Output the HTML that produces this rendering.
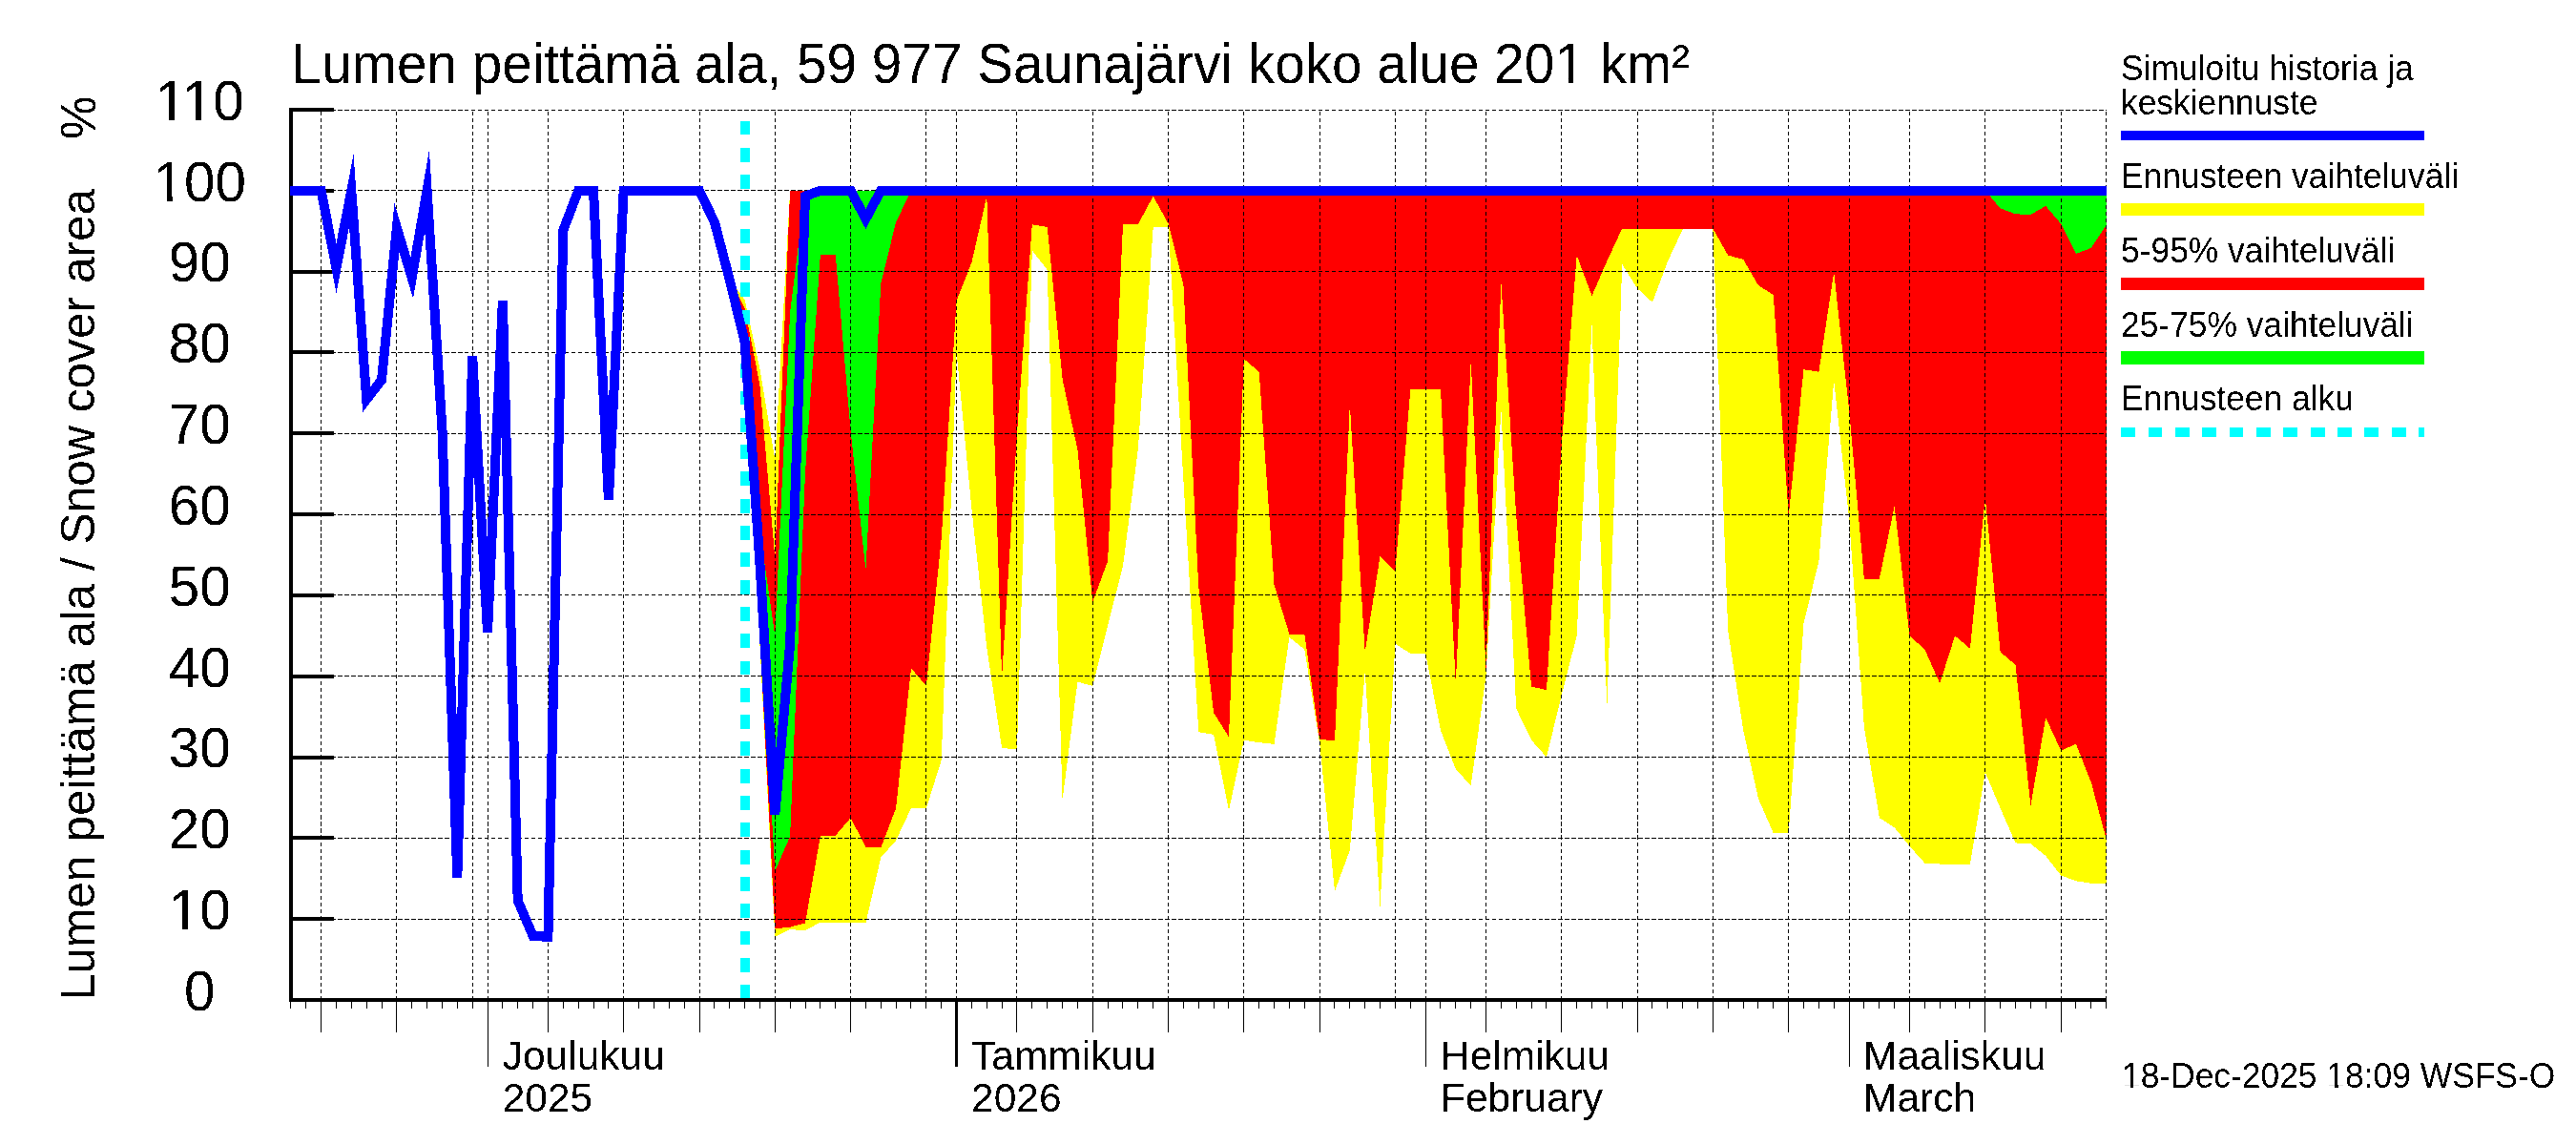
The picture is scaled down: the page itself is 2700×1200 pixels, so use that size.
<!DOCTYPE html>
<html><head><meta charset="utf-8"><title>Lumen peittämä ala</title>
<style>html,body{margin:0;padding:0;background:#fff;width:2700px;height:1200px;overflow:hidden}</style>
</head><body>
<svg width="2700" height="1200" viewBox="0 0 2700 1200" shape-rendering="crispEdges" style="position:absolute;left:0;top:0"><defs><filter id="bin" x="0" y="0" width="2700" height="1200" filterUnits="userSpaceOnUse"><feComponentTransfer><feFuncA type="discrete" tableValues="0 1"/></feComponentTransfer></filter></defs><polygon points="764.7,293 780.6,314.2 796.4,386.3 812.3,482.2 828.1,199.7 844,199.7 859.9,199.7 875.7,199.7 891.6,199.7 907.4,199.7 923.3,199.7 939.1,199.7 955,199.7 970.9,199.7 986.7,199.7 1002.6,199.7 1018.4,199.7 1034.3,199.7 1050.1,199.7 1066,199.7 1081.8,199.7 1097.7,199.7 1113.6,199.7 1129.4,199.7 1145.3,199.7 1161.1,199.7 1177,199.7 1192.8,199.7 1208.7,199.7 1224.6,199.7 1240.4,199.7 1256.3,199.7 1272.1,199.7 1288,199.7 1303.8,199.7 1319.7,199.7 1335.5,199.7 1351.4,199.7 1367.3,199.7 1383.1,199.7 1399,199.7 1414.8,199.7 1430.7,199.7 1446.5,199.7 1462.4,199.7 1478.3,199.7 1494.1,199.7 1510,199.7 1525.8,199.7 1541.7,199.7 1557.5,199.7 1573.4,199.7 1589.2,199.7 1605.1,199.7 1621,199.7 1636.8,199.7 1652.7,199.7 1668.5,199.7 1684.4,199.7 1700.2,199.7 1716.1,199.7 1732,199.7 1747.8,199.7 1763.7,199.7 1779.5,199.7 1795.4,199.7 1811.2,199.7 1827.1,199.7 1842.9,199.7 1858.8,199.7 1874.7,199.7 1890.5,199.7 1906.4,199.7 1922.2,199.7 1938.1,199.7 1953.9,199.7 1969.8,199.7 1985.7,199.7 2001.5,199.7 2017.4,199.7 2033.2,199.7 2049.1,199.7 2064.9,199.7 2080.8,199.7 2096.6,199.7 2112.5,199.7 2128.4,199.7 2144.2,199.7 2160.1,199.7 2175.9,199.7 2191.8,199.7 2207.6,199.7 2207.6,925.8 2191.8,925.8 2175.9,923.3 2160.1,917.4 2144.2,897 2128.4,884.3 2112.5,883.4 2096.6,847 2080.8,809.6 2064.9,905.5 2049.1,905.5 2033.2,905.5 2017.4,904.6 2001.5,886.8 1985.7,867.3 1969.8,857.1 1953.9,762.1 1938.1,543.3 1922.2,399.1 1906.4,588.2 1890.5,653.5 1874.7,873.3 1858.8,873.3 1842.9,836.8 1827.1,764.7 1811.2,661.2 1795.4,240.4 1779.5,240.4 1763.7,240.4 1747.8,274.4 1732,316.8 1716.1,302.3 1700.2,276.9 1684.4,740.9 1668.5,340.5 1652.7,666.3 1636.8,728.2 1621,793.5 1605.1,775.7 1589.2,742.6 1573.4,429.6 1557.5,708.7 1541.7,823.2 1525.8,806.2 1510,765.5 1494.1,684.9 1478.3,684.9 1462.4,674.7 1446.5,949.6 1430.7,703.6 1414.8,891.1 1399,934.3 1383.1,778.2 1367.3,680.7 1351.4,668 1335.5,779.9 1319.7,778.2 1303.8,775.7 1288,849.5 1272.1,769.8 1256.3,767.2 1240.4,503.4 1224.6,237.9 1208.7,237.9 1192.8,471.2 1177,593.3 1161.1,655.2 1145.3,718.9 1129.4,714.6 1113.6,838.5 1097.7,282.8 1081.8,262.5 1066,785 1050.1,784.2 1034.3,679 1018.4,533.1 1002.6,369.4 986.7,796.9 970.9,847 955,847 939.1,880.9 923.3,898.7 907.4,967.4 891.6,967.4 875.7,967.4 859.9,966.6 844,975 828.1,974.2 812.3,981.8 796.4,674.7 780.6,373.6 764.7,293" fill="#ffff00" stroke="none"/><polygon points="764.7,293 780.6,322.7 796.4,403.3 812.3,584.8 828.1,199.7 844,199.7 859.9,199.7 875.7,199.7 891.6,199.7 907.4,199.7 923.3,199.7 939.1,199.7 955,199.7 970.9,199.7 986.7,199.7 1002.6,199.7 1018.4,199.7 1034.3,199.7 1050.1,199.7 1066,199.7 1081.8,199.7 1097.7,199.7 1113.6,199.7 1129.4,199.7 1145.3,199.7 1161.1,199.7 1177,199.7 1192.8,199.7 1208.7,199.7 1224.6,199.7 1240.4,199.7 1256.3,199.7 1272.1,199.7 1288,199.7 1303.8,199.7 1319.7,199.7 1335.5,199.7 1351.4,199.7 1367.3,199.7 1383.1,199.7 1399,199.7 1414.8,199.7 1430.7,199.7 1446.5,199.7 1462.4,199.7 1478.3,199.7 1494.1,199.7 1510,199.7 1525.8,199.7 1541.7,199.7 1557.5,199.7 1573.4,199.7 1589.2,199.7 1605.1,199.7 1621,199.7 1636.8,199.7 1652.7,199.7 1668.5,199.7 1684.4,199.7 1700.2,199.7 1716.1,199.7 1732,199.7 1747.8,199.7 1763.7,199.7 1779.5,199.7 1795.4,199.7 1811.2,199.7 1827.1,199.7 1842.9,199.7 1858.8,199.7 1874.7,199.7 1890.5,199.7 1906.4,199.7 1922.2,199.7 1938.1,199.7 1953.9,199.7 1969.8,199.7 1985.7,199.7 2001.5,199.7 2017.4,199.7 2033.2,199.7 2049.1,199.7 2064.9,199.7 2080.8,199.7 2096.6,199.7 2112.5,199.7 2128.4,199.7 2144.2,199.7 2160.1,199.7 2175.9,199.7 2191.8,199.7 2207.6,199.7 2207.6,879.2 2191.8,819.8 2175.9,779.9 2160.1,786.7 2144.2,751.9 2128.4,844.4 2112.5,696.8 2096.6,683.2 2080.8,521.2 2064.9,679.8 2049.1,666.3 2033.2,716.3 2017.4,680.7 2001.5,666.3 1985.7,530.5 1969.8,606.9 1953.9,606.9 1938.1,429.6 1922.2,285.4 1906.4,389.7 1890.5,387.2 1874.7,540.7 1858.8,309.1 1842.9,299 1827.1,271.8 1811.2,267.6 1795.4,239.6 1779.5,239.6 1763.7,239.6 1747.8,239.6 1732,239.6 1716.1,239.6 1700.2,239.6 1684.4,273.5 1668.5,310 1652.7,267.6 1636.8,466.1 1621,723.1 1605.1,719.7 1589.2,540.7 1573.4,296.4 1557.5,701 1541.7,378.7 1525.8,716.3 1510,408.4 1494.1,408.4 1478.3,408.4 1462.4,598.4 1446.5,583.1 1430.7,683.2 1414.8,423.7 1399,776.5 1383.1,774.8 1367.3,664.6 1351.4,664.6 1335.5,612.8 1319.7,389.7 1303.8,376.1 1288,772.3 1272.1,746.9 1256.3,615.4 1240.4,298.1 1224.6,234.5 1208.7,205.6 1192.8,235.3 1177,234.5 1161.1,588.2 1145.3,630.6 1129.4,471.2 1113.6,397.4 1097.7,237.9 1081.8,235.3 1066,454.2 1050.1,709.5 1034.3,205.6 1018.4,275.2 1002.6,315.1 986.7,564.5 970.9,718.9 955,700.2 939.1,847 923.3,888.5 907.4,887.7 891.6,857.1 875.7,875.8 859.9,875.8 844,967.4 828.1,971.7 812.3,973.3 796.4,666.3 780.6,369.4 764.7,293" fill="#ff0000" stroke="none"/><polygon points="764.7,293 780.6,348.2 796.4,556 812.3,666.3 828.1,326.9 844,199.7 859.9,199.7 875.7,199.7 891.6,199.7 907.4,199.7 923.3,199.7 939.1,199.7 955,199.7 970.9,199.7 986.7,199.7 1002.6,199.7 1018.4,199.7 1034.3,199.7 1050.1,199.7 1066,199.7 1081.8,199.7 1097.7,199.7 1113.6,199.7 1129.4,199.7 1145.3,199.7 1161.1,199.7 1177,199.7 1192.8,199.7 1208.7,199.7 1224.6,199.7 1240.4,199.7 1256.3,199.7 1272.1,199.7 1288,199.7 1303.8,199.7 1319.7,199.7 1335.5,199.7 1351.4,199.7 1367.3,199.7 1383.1,199.7 1399,199.7 1414.8,199.7 1430.7,199.7 1446.5,199.7 1462.4,199.7 1478.3,199.7 1494.1,199.7 1510,199.7 1525.8,199.7 1541.7,199.7 1557.5,199.7 1573.4,199.7 1589.2,199.7 1605.1,199.7 1621,199.7 1636.8,199.7 1652.7,199.7 1668.5,199.7 1684.4,199.7 1700.2,199.7 1716.1,199.7 1732,199.7 1747.8,199.7 1763.7,199.7 1779.5,199.7 1795.4,199.7 1811.2,199.7 1827.1,199.7 1842.9,199.7 1858.8,199.7 1874.7,199.7 1890.5,199.7 1906.4,199.7 1922.2,199.7 1938.1,199.7 1953.9,199.7 1969.8,199.7 1985.7,199.7 2001.5,199.7 2017.4,199.7 2033.2,199.7 2049.1,199.7 2064.9,199.7 2080.8,199.7 2096.6,199.7 2112.5,199.7 2128.4,199.7 2144.2,199.7 2160.1,199.7 2175.9,199.7 2191.8,199.7 2207.6,199.7 2207.6,236.2 2191.8,259.9 2175.9,265.9 2160.1,234.5 2144.2,215.8 2128.4,225.1 2112.5,224.3 2096.6,218.4 2080.8,199.7 2064.9,199.7 2049.1,199.7 2033.2,199.7 2017.4,199.7 2001.5,199.7 1985.7,199.7 1969.8,199.7 1953.9,199.7 1938.1,199.7 1922.2,199.7 1906.4,199.7 1890.5,199.7 1874.7,199.7 1858.8,199.7 1842.9,199.7 1827.1,199.7 1811.2,199.7 1795.4,199.7 1779.5,199.7 1763.7,199.7 1747.8,199.7 1732,199.7 1716.1,199.7 1700.2,199.7 1684.4,199.7 1668.5,199.7 1652.7,199.7 1636.8,199.7 1621,199.7 1605.1,199.7 1589.2,199.7 1573.4,199.7 1557.5,199.7 1541.7,199.7 1525.8,199.7 1510,199.7 1494.1,199.7 1478.3,199.7 1462.4,199.7 1446.5,199.7 1430.7,199.7 1414.8,199.7 1399,199.7 1383.1,199.7 1367.3,199.7 1351.4,199.7 1335.5,199.7 1319.7,199.7 1303.8,199.7 1288,199.7 1272.1,199.7 1256.3,199.7 1240.4,199.7 1224.6,199.7 1208.7,199.7 1192.8,199.7 1177,199.7 1161.1,199.7 1145.3,199.7 1129.4,199.7 1113.6,199.7 1097.7,199.7 1081.8,199.7 1066,199.7 1050.1,199.7 1034.3,199.7 1018.4,199.7 1002.6,199.7 986.7,199.7 970.9,199.7 955,199.7 939.1,232.8 923.3,297.3 907.4,597.6 891.6,451.6 875.7,266.7 859.9,266.7 844,494.9 828.1,876.6 812.3,913.1 796.4,640.8 780.6,365.1 764.7,293" fill="#00ff00" stroke="none"/><g stroke="#000" stroke-width="1" stroke-dasharray="4.7 2.292" fill="none"><line x1="305" y1="963.5" x2="2208" y2="963.5"/><line x1="305" y1="878.5" x2="2208" y2="878.5"/><line x1="305" y1="793.5" x2="2208" y2="793.5"/><line x1="305" y1="708.5" x2="2208" y2="708.5"/><line x1="305" y1="623.5" x2="2208" y2="623.5"/><line x1="305" y1="539.5" x2="2208" y2="539.5"/><line x1="305" y1="454.5" x2="2208" y2="454.5"/><line x1="305" y1="369.5" x2="2208" y2="369.5"/><line x1="305" y1="284.5" x2="2208" y2="284.5"/><line x1="305" y1="199.5" x2="2208" y2="199.5"/><line x1="305" y1="115.5" x2="2208" y2="115.5"/></g><g stroke="#000" stroke-width="1" stroke-dasharray="4.1 2.923" fill="none"><line x1="336.5" y1="117" x2="336.5" y2="1046"/><line x1="415.5" y1="117" x2="415.5" y2="1046"/><line x1="495.5" y1="117" x2="495.5" y2="1046"/><line x1="511.5" y1="117" x2="511.5" y2="1046"/><line x1="574.5" y1="117" x2="574.5" y2="1046"/><line x1="653.5" y1="117" x2="653.5" y2="1046"/><line x1="733.5" y1="117" x2="733.5" y2="1046"/><line x1="812.5" y1="117" x2="812.5" y2="1046"/><line x1="891.5" y1="117" x2="891.5" y2="1046"/><line x1="970.5" y1="117" x2="970.5" y2="1046"/><line x1="1002.5" y1="117" x2="1002.5" y2="1046"/><line x1="1065.5" y1="117" x2="1065.5" y2="1046"/><line x1="1145.5" y1="117" x2="1145.5" y2="1046"/><line x1="1224.5" y1="117" x2="1224.5" y2="1046"/><line x1="1303.5" y1="117" x2="1303.5" y2="1046"/><line x1="1383.5" y1="117" x2="1383.5" y2="1046"/><line x1="1462.5" y1="117" x2="1462.5" y2="1046"/><line x1="1494.5" y1="117" x2="1494.5" y2="1046"/><line x1="1557.5" y1="117" x2="1557.5" y2="1046"/><line x1="1636.5" y1="117" x2="1636.5" y2="1046"/><line x1="1716.5" y1="117" x2="1716.5" y2="1046"/><line x1="1795.5" y1="117" x2="1795.5" y2="1046"/><line x1="1874.5" y1="117" x2="1874.5" y2="1046"/><line x1="1938.5" y1="117" x2="1938.5" y2="1046"/><line x1="2001.5" y1="117" x2="2001.5" y2="1046"/><line x1="2080.5" y1="117" x2="2080.5" y2="1046"/><line x1="2160.5" y1="117" x2="2160.5" y2="1046"/><line x1="2207.5" y1="117" x2="2207.5" y2="1046"/></g><line x1="781.0" y1="1047" x2="781.0" y2="115" stroke="#00ffff" stroke-width="10" stroke-dasharray="14.9 13.4"/><g><rect x="303" y="113" width="4" height="937" fill="#000" stroke="none"/><rect x="303" y="1046" width="1905" height="4" fill="#000" stroke="none"/><rect x="303" y="961" width="47" height="4" fill="#000" stroke="none"/><rect x="303" y="876" width="47" height="4" fill="#000" stroke="none"/><rect x="303" y="792" width="47" height="4" fill="#000" stroke="none"/><rect x="303" y="707" width="47" height="4" fill="#000" stroke="none"/><rect x="303" y="622" width="47" height="4" fill="#000" stroke="none"/><rect x="303" y="537" width="47" height="4" fill="#000" stroke="none"/><rect x="303" y="452" width="47" height="4" fill="#000" stroke="none"/><rect x="303" y="367" width="47" height="4" fill="#000" stroke="none"/><rect x="303" y="283" width="47" height="4" fill="#000" stroke="none"/><rect x="303" y="198" width="47" height="4" fill="#000" stroke="none"/><rect x="303" y="113" width="47" height="4" fill="#000" stroke="none"/><rect x="304" y="1048" width="1" height="9" fill="#000" stroke="none"/><rect x="320" y="1048" width="1" height="9" fill="#000" stroke="none"/><rect x="336" y="1048" width="1" height="34" fill="#000" stroke="none"/><rect x="352" y="1048" width="1" height="9" fill="#000" stroke="none"/><rect x="368" y="1048" width="1" height="9" fill="#000" stroke="none"/><rect x="384" y="1048" width="1" height="9" fill="#000" stroke="none"/><rect x="400" y="1048" width="1" height="9" fill="#000" stroke="none"/><rect x="415" y="1048" width="1" height="34" fill="#000" stroke="none"/><rect x="431" y="1048" width="1" height="9" fill="#000" stroke="none"/><rect x="447" y="1048" width="1" height="9" fill="#000" stroke="none"/><rect x="463" y="1048" width="1" height="9" fill="#000" stroke="none"/><rect x="479" y="1048" width="1" height="9" fill="#000" stroke="none"/><rect x="495" y="1048" width="1" height="9" fill="#000" stroke="none"/><rect x="511" y="1048" width="1" height="70" fill="#000" stroke="none"/><rect x="526" y="1048" width="1" height="9" fill="#000" stroke="none"/><rect x="542" y="1048" width="1" height="9" fill="#000" stroke="none"/><rect x="558" y="1048" width="1" height="9" fill="#000" stroke="none"/><rect x="574" y="1048" width="1" height="34" fill="#000" stroke="none"/><rect x="590" y="1048" width="1" height="9" fill="#000" stroke="none"/><rect x="606" y="1048" width="1" height="9" fill="#000" stroke="none"/><rect x="622" y="1048" width="1" height="9" fill="#000" stroke="none"/><rect x="637" y="1048" width="1" height="9" fill="#000" stroke="none"/><rect x="653" y="1048" width="1" height="34" fill="#000" stroke="none"/><rect x="669" y="1048" width="1" height="9" fill="#000" stroke="none"/><rect x="685" y="1048" width="1" height="9" fill="#000" stroke="none"/><rect x="701" y="1048" width="1" height="9" fill="#000" stroke="none"/><rect x="717" y="1048" width="1" height="9" fill="#000" stroke="none"/><rect x="733" y="1048" width="1" height="34" fill="#000" stroke="none"/><rect x="748" y="1048" width="1" height="9" fill="#000" stroke="none"/><rect x="764" y="1048" width="1" height="9" fill="#000" stroke="none"/><rect x="780" y="1048" width="1" height="9" fill="#000" stroke="none"/><rect x="796" y="1048" width="1" height="9" fill="#000" stroke="none"/><rect x="812" y="1048" width="1" height="34" fill="#000" stroke="none"/><rect x="828" y="1048" width="1" height="9" fill="#000" stroke="none"/><rect x="844" y="1048" width="1" height="9" fill="#000" stroke="none"/><rect x="859" y="1048" width="1" height="9" fill="#000" stroke="none"/><rect x="875" y="1048" width="1" height="9" fill="#000" stroke="none"/><rect x="891" y="1048" width="1" height="34" fill="#000" stroke="none"/><rect x="907" y="1048" width="1" height="9" fill="#000" stroke="none"/><rect x="923" y="1048" width="1" height="9" fill="#000" stroke="none"/><rect x="939" y="1048" width="1" height="9" fill="#000" stroke="none"/><rect x="954" y="1048" width="1" height="9" fill="#000" stroke="none"/><rect x="970" y="1048" width="1" height="9" fill="#000" stroke="none"/><rect x="986" y="1048" width="1" height="9" fill="#000" stroke="none"/><rect x="1001" y="1048" width="3" height="70" fill="#000" stroke="none"/><rect x="1018" y="1048" width="1" height="9" fill="#000" stroke="none"/><rect x="1034" y="1048" width="1" height="9" fill="#000" stroke="none"/><rect x="1050" y="1048" width="1" height="9" fill="#000" stroke="none"/><rect x="1065" y="1048" width="1" height="34" fill="#000" stroke="none"/><rect x="1081" y="1048" width="1" height="9" fill="#000" stroke="none"/><rect x="1097" y="1048" width="1" height="9" fill="#000" stroke="none"/><rect x="1113" y="1048" width="1" height="9" fill="#000" stroke="none"/><rect x="1129" y="1048" width="1" height="9" fill="#000" stroke="none"/><rect x="1145" y="1048" width="1" height="34" fill="#000" stroke="none"/><rect x="1161" y="1048" width="1" height="9" fill="#000" stroke="none"/><rect x="1176" y="1048" width="1" height="9" fill="#000" stroke="none"/><rect x="1192" y="1048" width="1" height="9" fill="#000" stroke="none"/><rect x="1208" y="1048" width="1" height="9" fill="#000" stroke="none"/><rect x="1224" y="1048" width="1" height="34" fill="#000" stroke="none"/><rect x="1240" y="1048" width="1" height="9" fill="#000" stroke="none"/><rect x="1256" y="1048" width="1" height="9" fill="#000" stroke="none"/><rect x="1272" y="1048" width="1" height="9" fill="#000" stroke="none"/><rect x="1287" y="1048" width="1" height="9" fill="#000" stroke="none"/><rect x="1303" y="1048" width="1" height="34" fill="#000" stroke="none"/><rect x="1319" y="1048" width="1" height="9" fill="#000" stroke="none"/><rect x="1335" y="1048" width="1" height="9" fill="#000" stroke="none"/><rect x="1351" y="1048" width="1" height="9" fill="#000" stroke="none"/><rect x="1367" y="1048" width="1" height="9" fill="#000" stroke="none"/><rect x="1383" y="1048" width="1" height="34" fill="#000" stroke="none"/><rect x="1398" y="1048" width="1" height="9" fill="#000" stroke="none"/><rect x="1414" y="1048" width="1" height="9" fill="#000" stroke="none"/><rect x="1430" y="1048" width="1" height="9" fill="#000" stroke="none"/><rect x="1446" y="1048" width="1" height="9" fill="#000" stroke="none"/><rect x="1462" y="1048" width="1" height="9" fill="#000" stroke="none"/><rect x="1478" y="1048" width="1" height="9" fill="#000" stroke="none"/><rect x="1494" y="1048" width="1" height="70" fill="#000" stroke="none"/><rect x="1509" y="1048" width="1" height="9" fill="#000" stroke="none"/><rect x="1525" y="1048" width="1" height="9" fill="#000" stroke="none"/><rect x="1541" y="1048" width="1" height="9" fill="#000" stroke="none"/><rect x="1557" y="1048" width="1" height="34" fill="#000" stroke="none"/><rect x="1573" y="1048" width="1" height="9" fill="#000" stroke="none"/><rect x="1589" y="1048" width="1" height="9" fill="#000" stroke="none"/><rect x="1605" y="1048" width="1" height="9" fill="#000" stroke="none"/><rect x="1620" y="1048" width="1" height="9" fill="#000" stroke="none"/><rect x="1636" y="1048" width="1" height="34" fill="#000" stroke="none"/><rect x="1652" y="1048" width="1" height="9" fill="#000" stroke="none"/><rect x="1668" y="1048" width="1" height="9" fill="#000" stroke="none"/><rect x="1684" y="1048" width="1" height="9" fill="#000" stroke="none"/><rect x="1700" y="1048" width="1" height="9" fill="#000" stroke="none"/><rect x="1716" y="1048" width="1" height="34" fill="#000" stroke="none"/><rect x="1731" y="1048" width="1" height="9" fill="#000" stroke="none"/><rect x="1747" y="1048" width="1" height="9" fill="#000" stroke="none"/><rect x="1763" y="1048" width="1" height="9" fill="#000" stroke="none"/><rect x="1779" y="1048" width="1" height="9" fill="#000" stroke="none"/><rect x="1795" y="1048" width="1" height="34" fill="#000" stroke="none"/><rect x="1811" y="1048" width="1" height="9" fill="#000" stroke="none"/><rect x="1827" y="1048" width="1" height="9" fill="#000" stroke="none"/><rect x="1842" y="1048" width="1" height="9" fill="#000" stroke="none"/><rect x="1858" y="1048" width="1" height="9" fill="#000" stroke="none"/><rect x="1874" y="1048" width="1" height="34" fill="#000" stroke="none"/><rect x="1890" y="1048" width="1" height="9" fill="#000" stroke="none"/><rect x="1906" y="1048" width="1" height="9" fill="#000" stroke="none"/><rect x="1922" y="1048" width="1" height="9" fill="#000" stroke="none"/><rect x="1938" y="1048" width="1" height="70" fill="#000" stroke="none"/><rect x="1953" y="1048" width="1" height="9" fill="#000" stroke="none"/><rect x="1969" y="1048" width="1" height="9" fill="#000" stroke="none"/><rect x="1985" y="1048" width="1" height="9" fill="#000" stroke="none"/><rect x="2001" y="1048" width="1" height="34" fill="#000" stroke="none"/><rect x="2017" y="1048" width="1" height="9" fill="#000" stroke="none"/><rect x="2033" y="1048" width="1" height="9" fill="#000" stroke="none"/><rect x="2049" y="1048" width="1" height="9" fill="#000" stroke="none"/><rect x="2064" y="1048" width="1" height="9" fill="#000" stroke="none"/><rect x="2080" y="1048" width="1" height="34" fill="#000" stroke="none"/><rect x="2096" y="1048" width="1" height="9" fill="#000" stroke="none"/><rect x="2112" y="1048" width="1" height="9" fill="#000" stroke="none"/><rect x="2128" y="1048" width="1" height="9" fill="#000" stroke="none"/><rect x="2144" y="1048" width="1" height="9" fill="#000" stroke="none"/><rect x="2160" y="1048" width="1" height="34" fill="#000" stroke="none"/><rect x="2175" y="1048" width="1" height="9" fill="#000" stroke="none"/><rect x="2191" y="1048" width="1" height="9" fill="#000" stroke="none"/><rect x="2207" y="1048" width="1" height="9" fill="#000" stroke="none"/></g><polyline points="304,199.7 320.7,199.7 336.6,199.7 352.5,281.1 368.3,199.7 384.2,418.6 400,398.2 415.9,238.7 431.7,291.3 447.6,199.7 463.5,450.8 479.3,920.3 495.2,373.6 511,662.9 526.9,315.1 542.7,943.7 558.6,981 574.4,981.8 590.3,241.3 606.2,199.7 622,199.7 637.9,523.8 653.7,199.7 669.6,199.7 685.4,199.7 701.3,199.7 717.2,199.7 733,199.7 748.9,232.8 764.7,293 780.6,358.3 796.4,589.9 812.3,853.7 828.1,674.7 844,205.6 859.9,199.7 875.7,199.7 891.6,199.7 907.4,229.4 923.3,199.7 939.1,199.7 955,199.7 970.9,199.7 986.7,199.7 1002.6,199.7 1018.4,199.7 1034.3,199.7 1050.1,199.7 1066,199.7 1081.8,199.7 1097.7,199.7 1113.6,199.7 1129.4,199.7 1145.3,199.7 1161.1,199.7 1177,199.7 1192.8,199.7 1208.7,199.7 1224.6,199.7 1240.4,199.7 1256.3,199.7 1272.1,199.7 1288,199.7 1303.8,199.7 1319.7,199.7 1335.5,199.7 1351.4,199.7 1367.3,199.7 1383.1,199.7 1399,199.7 1414.8,199.7 1430.7,199.7 1446.5,199.7 1462.4,199.7 1478.3,199.7 1494.1,199.7 1510,199.7 1525.8,199.7 1541.7,199.7 1557.5,199.7 1573.4,199.7 1589.2,199.7 1605.1,199.7 1621,199.7 1636.8,199.7 1652.7,199.7 1668.5,199.7 1684.4,199.7 1700.2,199.7 1716.1,199.7 1732,199.7 1747.8,199.7 1763.7,199.7 1779.5,199.7 1795.4,199.7 1811.2,199.7 1827.1,199.7 1842.9,199.7 1858.8,199.7 1874.7,199.7 1890.5,199.7 1906.4,199.7 1922.2,199.7 1938.1,199.7 1953.9,199.7 1969.8,199.7 1985.7,199.7 2001.5,199.7 2017.4,199.7 2033.2,199.7 2049.1,199.7 2064.9,199.7 2080.8,199.7 2096.6,199.7 2112.5,199.7 2128.4,199.7 2144.2,199.7 2160.1,199.7 2175.9,199.7 2191.8,199.7 2207.6,199.7" fill="none" stroke="#0000ff" stroke-width="10" stroke-linejoin="miter" stroke-miterlimit="10"/><g style="font-family:'Liberation Sans',sans-serif" fill="#000" filter="url(#bin)"><text transform="translate(305.6,87.1) scale(0.971,1)" font-size="58.4">Lumen peittämä ala, 59 977 Saunajärvi koko alue 201 km²</text><text x="209.2" y="1058.9" font-size="58.4" text-anchor="middle">0</text><text x="209.2" y="974.1" font-size="58.4" text-anchor="middle">10</text><text x="209.2" y="889.2" font-size="58.4" text-anchor="middle">20</text><text x="209.2" y="804.4" font-size="58.4" text-anchor="middle">30</text><text x="209.2" y="719.6" font-size="58.4" text-anchor="middle">40</text><text x="209.2" y="634.7" font-size="58.4" text-anchor="middle">50</text><text x="209.2" y="549.9" font-size="58.4" text-anchor="middle">60</text><text x="209.2" y="465.1" font-size="58.4" text-anchor="middle">70</text><text x="209.2" y="380.3" font-size="58.4" text-anchor="middle">80</text><text x="209.2" y="295.4" font-size="58.4" text-anchor="middle">90</text><text x="209.2" y="210.6" font-size="58.4" text-anchor="middle">100</text><text x="209.2" y="125.8" font-size="58.4" text-anchor="middle">110</text><text transform="translate(99,1048.3) rotate(-90)" font-size="49.7">Lumen peittämä ala / Snow cover area</text><text transform="translate(99.7,146) rotate(-90)" font-size="51">%</text><text x="526.7" y="1120.9" font-size="42.5">Joulukuu</text><text x="526.7" y="1165.1" font-size="42.5">2025</text><text x="1018" y="1120.9" font-size="42.5">Tammikuu</text><text x="1018" y="1165.1" font-size="42.5">2026</text><text x="1510" y="1120.9" font-size="42.5">Helmikuu</text><text x="1510" y="1165.1" font-size="42.5">February</text><text x="1953" y="1120.9" font-size="42.5">Maaliskuu</text><text x="1953" y="1165.1" font-size="42.5">March</text><text transform="translate(2223,84.3) scale(0.983,1)" font-size="36">Simuloitu historia ja</text><text transform="translate(2223,119.5) scale(0.983,1)" font-size="36">keskiennuste</text><text transform="translate(2223,196.7) scale(0.983,1)" font-size="36">Ennusteen vaihteluväli</text><text transform="translate(2223,275) scale(0.983,1)" font-size="36">5-95% vaihteluväli</text><text transform="translate(2223,353.1) scale(0.983,1)" font-size="36">25-75% vaihteluväli</text><text transform="translate(2223,429.9) scale(0.983,1)" font-size="36">Ennusteen alku</text><text transform="translate(2224,1140.1) scale(0.983,1)" font-size="36">18-Dec-2025 18:09 WSFS-O</text></g><rect x="2223.2" y="137.2" width="317.8" height="9.5" fill="#0000ff"/><rect x="2223.2" y="213" width="317.8" height="12.7" fill="#ffff00"/><rect x="2223.2" y="290.9" width="317.8" height="12.7" fill="#ff0000"/><rect x="2223.2" y="368.1" width="317.8" height="13.6" fill="#00ff00"/><line x1="2223.2" y1="452.9" x2="2541" y2="452.9" stroke="#00ffff" stroke-width="9.8" stroke-dasharray="14.8 13.56"/><g fill="#fff" shape-rendering="crispEdges" transform="translate(305.6,87.1) scale(0.971,1)"><rect x="1366.20" y="-5.26" width="11.68" height="6.42"/><rect x="1383.31" y="-5.26" width="11.10" height="6.42"/></g><g fill="#fff" shape-rendering="crispEdges"><rect x="179.64" y="968.84" width="11.68" height="6.42"/><rect x="196.75" y="968.84" width="11.10" height="6.42"/><rect x="163.40" y="205.34" width="11.68" height="6.42"/><rect x="180.51" y="205.34" width="11.10" height="6.42"/><rect x="165.57" y="120.54" width="11.68" height="6.42"/><rect x="182.68" y="120.54" width="11.10" height="6.42"/><rect x="193.70" y="120.54" width="11.68" height="6.42"/><rect x="210.81" y="120.54" width="11.10" height="6.42"/></g><g fill="#fff" shape-rendering="crispEdges" transform="translate(2224,1140.1) scale(0.983,1)"><rect x="1.80" y="-3.24" width="7.20" height="3.96"/><rect x="12.35" y="-3.24" width="6.84" height="3.96"/><rect x="219.86" y="-3.24" width="7.20" height="3.96"/><rect x="230.41" y="-3.24" width="6.84" height="3.96"/></g></svg>
</body></html>
